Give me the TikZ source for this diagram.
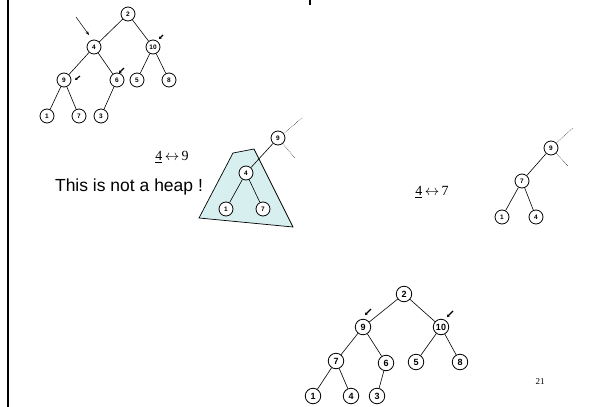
\documentclass[tikz,border=0pt]{standalone}
\usepackage{fontspec}
\setmainfont{Liberation Serif}
\newfontfamily\keyfont{Liberation Sans}
\usetikzlibrary{arrows.meta}

\begin{document}
\begin{tikzpicture}[x=1pt,y=-1pt,
    key/.style={circle,draw,fill=white,line width=0.8pt,inner sep=0pt,minimum size=14pt,
      font=\keyfont\bfseries\fontsize{6.5}{7}\selectfont},
    bigkey/.style={key,minimum size=15.5pt,font=\keyfont\bfseries\fontsize{9}{10}\selectfont},
    edge/.style={line width=0.6pt},
    rest/.style={line width=0.5pt,densely dotted},
    tick/.style={line width=1.1pt,-{Stealth[length=2.5pt,width=3pt]}},
    swap/.style={font=\fontsize{14}{16}\selectfont}]
  \definecolor{shade}{RGB}{216,239,240}
  \useasboundingbox (0,0) rectangle (592,407);
  \draw[line width=2.5pt] (8,0) -- (8,407);
  \draw[line width=1.5pt] (310,0) -- (310,5);

  % first tree, before the sift-down
  \node[key] (a2)  at (128,14)  {2};
  \node[key] (a4)  at (94,47)   {4};
  \node[key] (a10) at (153,47)  {10};
  \node[key] (a9)  at (64,80)   {9};
  \node[key] (a6)  at (117,80)  {6};
  \node[key] (a5)  at (137,80)  {5};
  \node[key] (a8)  at (169,80)  {8};
  \node[key] (a1)  at (47,116)  {1};
  \node[key] (a7)  at (79,116)  {7};
  \node[key] (a3)  at (101,116) {3};
  \foreach \p/\c in {a2/a4,a2/a10,a4/a9,a4/a6,a10/a5,a10/a8,a9/a1,a9/a7,a6/a3}
    \draw[edge] (\p) -- (\c);
  \coordinate (ptr) at (76,17);
  \coordinate (ptrend) at (89,35);
  \draw[line width=0.5pt,-{Stealth[length=4pt,width=3pt]}] (ptr) -- (ptrend);
  \coordinate (ta10) at (163,35);
  \coordinate (ta6)  at (124,68);
  \coordinate (ta9)  at (80,76);
  \draw[tick] (ta10) -- ++(-4,4);
  \draw[tick] (ta6) -- ++(-5,5);
  \draw[tick] (ta9) -- ++(-5,4);

  % 4 <-> 9
  \node[swap] (sw1) at (172,157) {\underline{4}\,$\leftrightarrow$\,9};
  \node[font=\keyfont\fontsize{17.5}{20}\selectfont] (msg) at (129,187) {This is not a heap !};
  \draw[line width=0.7pt,fill=shade] (233,153) -- (254,149) -- (293,227) -- (199,218) -- cycle;
  \node[key] (b9) at (278,138) {9};
  \node[key] (b4) at (246,173) {4};
  \node[key] (b1) at (226,209) {1};
  \node[key] (b7) at (263,209) {7};
  \foreach \p/\c in {b9/b4,b4/b1,b4/b7}
    \draw[edge] (\p) -- (\c);
  \coordinate (bup) at (302,118);
  \coordinate (bdn) at (295,158);
  \draw[rest] (b9) -- (bup);
  \draw[rest] (b9) -- (bdn);

  % 4 <-> 7
  \node[swap] (sw2) at (432,192) {\underline{4}\,$\leftrightarrow$\,7};
  \node[key] (c9) at (551,148) {9};
  \node[key] (c7) at (522,181) {7};
  \node[key] (c1) at (502,217) {1};
  \node[key] (c4) at (536,217) {4};
  \foreach \p/\c in {c9/c7,c7/c1,c7/c4}
    \draw[edge] (\p) -- (\c);
  \coordinate (cup) at (573,128);
  \coordinate (cdn) at (568,166);
  \draw[rest] (c9) -- (cup);
  \draw[rest] (c9) -- (cdn);

  % resulting heap
  \node[bigkey] (d2)  at (404,294) {2};
  \node[bigkey] (d9)  at (363,327) {9};
  \node[bigkey] (d10) at (441,327) {10};
  \node[bigkey] (d7)  at (336,361) {7};
  \node[bigkey] (d6)  at (386,363) {6};
  \node[bigkey] (d5)  at (416,362) {5};
  \node[bigkey] (d8)  at (460,362) {8};
  \node[bigkey] (d1)  at (313,396) {1};
  \node[bigkey] (d4)  at (351,396) {4};
  \node[bigkey] (d3)  at (377,396) {3};
  \foreach \p/\c in {d2/d9,d2/d10,d9/d7,d9/d6,d10/d5,d10/d8,d7/d1,d7/d4,d6/d3}
    \draw[edge] (\p) -- (\c);
  \coordinate (td9)  at (371,309);
  \coordinate (td10) at (453,311);
  \draw[tick] (td9) -- ++(-6,6);
  \draw[tick] (td10) -- ++(-6,6);

  \node[font=\fontsize{9}{10}\selectfont] (pg) at (540,382) {21};
\end{tikzpicture}
\end{document}
